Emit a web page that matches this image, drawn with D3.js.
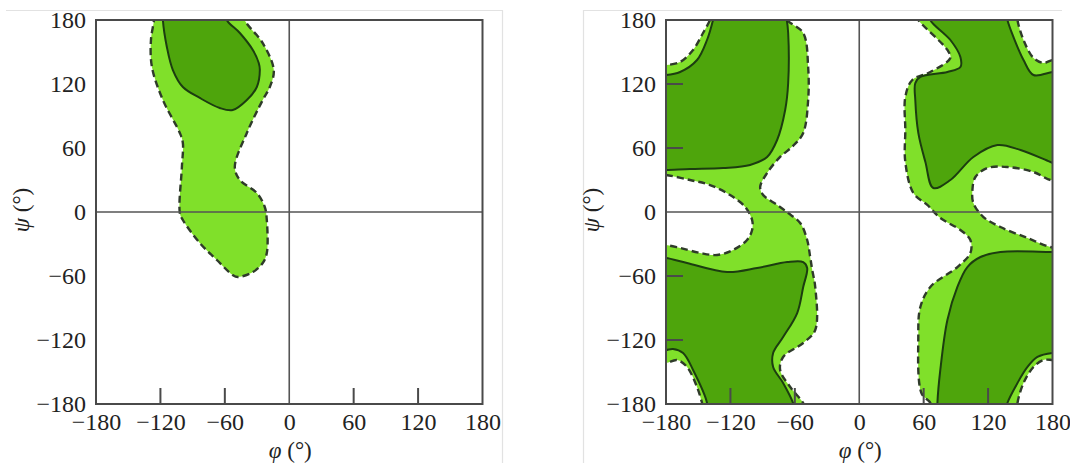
<!DOCTYPE html>
<html><head><meta charset="utf-8">
<script src="https://cdn.jsdelivr.net/npm/d3@7"></script>
<style>
body{margin:0;background:#fff}
svg text{font-family:"Liberation Serif","Times New Roman",serif;fill:#222}
</style>
</head><body>
<svg id="chart" width="1070" height="465"></svg>
<script>
// ---------- data (phi, psi in degrees) ----------
const phiTicks = [-180, -120, -60, 0, 60, 120, 180];
const psiTicks = [-180, -120, -60, 0, 60, 120, 180];
const innerPhiTicks = [-120, -60, 60, 120];
const innerPsiTicks = [-120, -60, 60, 120];

// Left panel: allowed (light) region and core (dark) region
const leftAllowed = [
  [-126,186],[-41,186],[-41.4,180],[-24.7,158.4],[-14.4,133.1],[-18.1,117.2],[-24.7,105],
  [-39.5,74.1],[-50.7,42.2],[-46.0,30],[-30.2,17.8],[-22.8,4.7],[-20.9,-7.5],[-20.9,-38.4],
  [-24.7,-47.8],[-33.9,-56.3],[-47.9,-60.9],[-52.6,-59.1],[-67.4,-45],[-83.3,-29.1],
  [-99.1,-7.5],[-101.9,-0.9],[-100,42.2],[-99.1,64.7],[-101.9,74.1],[-117.7,105],
  [-127.9,135.9],[-128.8,161.3],[-126,180]
];
const leftCore = [
  [-117.7,186],[-58.1,186],[-58.1,180],[-46.0,167.8],[-33.9,151.9],[-28.4,139.7],[-27.4,133.1],
  [-30.2,117.2],[-39.5,105],[-52.6,95.6],[-64.7,97.5],[-83.3,106.9],[-99.1,117.2],
  [-108.4,133.1],[-114,154.7],[-117.7,180]
];

// Right panel: core (dark) regions
const rightCoreTL = [
  [-186,128.4],[-180,128.4],[-166.9,131.25],[-151.1,142.5],[-141.8,161.25],[-136.2,180],[-135,186],
  [-69,186],[-67.5,180],[-66.2,167.8],[-66.2,120.9],[-69.0,95.6],[-76.5,67.5],[-85.8,51.6],
  [-101.7,44.1],[-126.8,41.25],[-157.6,40.3],[-180,39.4],[-186,39.4]
];
const rightCoreBL = [
  [-186,-43.1],[-180,-43.1],[-160.4,-47.8],[-123.1,-56.25],[-95.1,-52.5],[-67.1,-46.9],
  [-52.2,-46.9],[-48.5,-52.5],[-52.2,-70.3],[-57.8,-94.7],[-70.9,-117.2],[-80.2,-132.2],
  [-80.2,-145.3],[-70.9,-160.3],[-61.6,-179.1],[-60,-186],[-142,-186],[-141.8,-179.1],
  [-154.8,-148.1],[-164.1,-132.2],[-173.5,-128.4],[-180,-129.4],[-186,-129.4]
];
const rightCoreTR = [
  [66.2,186],[66.2,180],[84.9,161.25],[94.2,145.3],[94.2,135.9],[82.1,131.25],[56.9,126.6],
  [52.2,120.9],[52.2,105],[55.0,74.1],[61.6,46.9],[69.0,22.5],[84.9,30],[106.3,51.6],
  [128.7,62.8],[150.2,58.1],[178.1,46.9],[186,44],[186,131.25],[180,131.25],[162.3,128.4],
  [153.0,142.5],[143.6,164.1],[138.0,180],[137,186]
];
const rightCoreBR = [
  [72.8,-186],[72.8,-179.1],[75.5,-148.1],[82.1,-101.25],[91.4,-70.3],[100.7,-51.6],
  [112.9,-42.2],[131.5,-37.5],[178.1,-37.5],[186,-37.5],[186,-132.2],[180,-132.2],
  [166.0,-135.9],[156.7,-145.3],[147.4,-160.3],[138.0,-179.1],[137,-186]
];
// Right panel: disallowed (white) regions
const rightHoleMid = [
  [-68,186],[-67.1,180],[-52.2,167.8],[-47.6,135.9],[-47.6,105],[-52.2,74.1],[-61.6,62],
  [-73.7,51.6],[-85.8,36.6],[-92.3,23.4],[-89.5,15.9],[-76.5,6.6],[-66.2,-1],[-55.0,-10.3],
  [-48.5,-26.25],[-45.7,-42.2],[-43.8,-54.4],[-41.0,-70.3],[-41.0,-110.6],[-52.2,-122.8],
  [-70.9,-135.9],[-73.7,-148.1],[-64.3,-164.1],[-52.2,-179.1],[-50,-186],
  [66,-186],[66.2,-179.1],[58,-170],[55.0,-117.2],[56.9,-89.1],[66.2,-70.3],[91.4,-51.6],
  [103.5,-38.4],[103.5,-26.25],[94.2,-16.9],[75.5,-5.6],[63.4,6.6],[50.4,17.8],[42.9,46.9],
  [42.9,76.9],[42.9,107.8],[49.4,123.75],[66.2,131.25],[84.9,144.4],[82.1,151.9],[55.0,180],[52,186]
];
const rightHoleL = [
  [-186,35],[-180,34.7],[-157.6,30],[-139.0,25.3],[-120.3,15.9],[-106.3,4.7],[-99.8,-7.5],
  [-99.8,-16.9],[-104.5,-26.25],[-117.5,-35.6],[-132.4,-40.3],[-148.3,-38.4],[-166.9,-33.75],
  [-180,-31],[-186,-31]
];
const rightHoleR = [
  [186,30],[178.1,30],[162.3,37.5],[138.0,42.2],[119.4,41.25],[108.2,32.8],[105.4,20.6],
  [106.3,8.4],[115.7,-4.7],[131.5,-14.1],[156.7,-24.4],[178.1,-32.8],[186,-33]
];
const rightHoleTL = [
  [-186,186],[-186,138],[-180,137.8],[-166.9,140.6],[-154.8,151.9],[-145.5,167.8],[-139.0,180],[-137,186]
];
const rightHoleTR = [
  [147.4,186],[147.4,180],[153.0,161.25],[162.3,144.4],[171.6,139.7],[180,142.5],[186,142],[186,186]
];
const rightHoleBL = [
  [-186,-186],[-186,-141],[-180,-141.6],[-169.7,-138.75],[-160.4,-145.3],[-151.1,-164.1],
  [-146.4,-179.1],[-145,-186]
];
const rightHoleBR = [
  [147.4,-186],[147.4,-179.1],[153.0,-160.3],[162.3,-145.3],[171.6,-138.75],[180,-138.75],
  [186,-139],[186,-186]
];

// ---------- drawing ----------
const COL_LIGHT = "#80e02a", COL_DARK = "#4ea50c";
const STROKE_SOLID = "#1c3d10", STROKE_DASH = "#2f3b2a", FRAME = "#4a4a4a";
const svg = d3.select("#chart");
const fmt = d => d < 0 ? "\u2212" + (-d) : String(d);

// faint panel borders
const bord = svg.append("g").attr("stroke", "#e2e2e2").attr("stroke-width", 1.2).attr("fill", "none");
bord.append("path").attr("d", "M6,10.5H502.5V463");
bord.append("path").attr("d", "M583.5,463V10.5H1062");

function panel(id, x0, opts) {
  const x = d3.scaleLinear().domain([-180, 180]).range([x0, x0 + 386.5]);
  const y = d3.scaleLinear().domain([-180, 180]).range([404, 20]);
  const g = svg.append("g");
  g.append("clipPath").attr("id", "clip" + id).append("rect")
    .attr("x", x(-180)).attr("y", y(180)).attr("width", x(180) - x(-180)).attr("height", y(-180) - y(180));
  const area = g.append("g").attr("clip-path", `url(#clip${id})`);
  const line = d3.line().x(d => x(d[0])).y(d => y(d[1])).curve(d3.curveCatmullRomClosed.alpha(0.5));

  if (opts.fullLight) {
    area.append("rect").attr("x", x(-180)).attr("y", y(180))
      .attr("width", x(180) - x(-180)).attr("height", y(-180) - y(180)).attr("fill", COL_LIGHT);
  }
  const dashed = sel => sel.attr("stroke", STROKE_DASH).attr("stroke-width", 2.4).attr("stroke-dasharray", "7,4");
  (opts.light || []).forEach(p => area.append("path").attr("d", line(p)).attr("fill", COL_LIGHT).call(dashed));
  (opts.holes || []).forEach(p => area.append("path").attr("d", line(p)).attr("fill", "#fff").call(dashed));
  (opts.cores || []).forEach(p => area.append("path").attr("d", line(p))
    .attr("fill", COL_DARK).attr("stroke", STROKE_SOLID).attr("stroke-width", 2));

  // zero lines
  g.append("line").attr("x1", x(-180)).attr("x2", x(180)).attr("y1", y(0)).attr("y2", y(0))
    .attr("stroke", "#555").attr("stroke-width", 1.6);
  g.append("line").attr("x1", x(0)).attr("x2", x(0)).attr("y1", y(180)).attr("y2", y(-180))
    .attr("stroke", "#555").attr("stroke-width", 1.6);

  // inner ticks
  g.selectAll(".tx").data(innerPhiTicks).join("line")
    .attr("x1", d => x(d)).attr("x2", d => x(d)).attr("y1", y(-180)).attr("y2", y(-180) - 16)
    .attr("stroke", FRAME).attr("stroke-width", 2);
  if (opts.yTicks) {
    g.selectAll(".ty").data(innerPsiTicks).join("line")
      .attr("x1", x(-180)).attr("x2", x(-180) + 17).attr("y1", d => y(d)).attr("y2", d => y(d))
      .attr("stroke", FRAME).attr("stroke-width", 2);
  }
  // frame
  g.append("rect").attr("x", x(-180)).attr("y", y(180))
    .attr("width", x(180) - x(-180)).attr("height", y(-180) - y(180))
    .attr("fill", "none").attr("stroke", FRAME).attr("stroke-width", 2);

  // tick labels via axes
  const ax = g.append("g").attr("transform", `translate(0,${y(-180)})`)
    .call(d3.axisBottom(x).tickValues(phiTicks).tickSize(0).tickPadding(9).tickFormat(fmt));
  const ay = g.append("g").attr("transform", `translate(${x(-180)},0)`)
    .call(d3.axisLeft(y).tickValues(psiTicks).tickSize(0).tickPadding(10).tickFormat(fmt));
  [ax, ay].forEach(a => {
    a.select(".domain").remove();
    a.attr("font-family", null).attr("font-size", null);
    a.selectAll("text").attr("font-size", 24).attr("fill", "#222");
  });

  // axis titles
  const tx = g.append("text").attr("x", x(0) + 1).attr("y", 458).attr("text-anchor", "middle").attr("font-size", 23);
  tx.append("tspan").attr("font-style", "italic").text("φ");
  tx.append("tspan").text(" (°)");
  const ty = g.append("text").attr("transform", `translate(${x0 - 67},210) rotate(-90)`)
    .attr("text-anchor", "middle").attr("font-size", 23);
  ty.append("tspan").attr("font-style", "italic").text("ψ");
  ty.append("tspan").text(" (°)");
}

panel("L", 96, { light: [leftAllowed], cores: [leftCore], yTicks: false });
panel("R", 666, {
  fullLight: true,
  holes: [rightHoleMid, rightHoleL, rightHoleR, rightHoleTL, rightHoleTR, rightHoleBL, rightHoleBR],
  cores: [rightCoreTL, rightCoreBL, rightCoreTR, rightCoreBR],
  yTicks: true
});
</script>
</body></html>
